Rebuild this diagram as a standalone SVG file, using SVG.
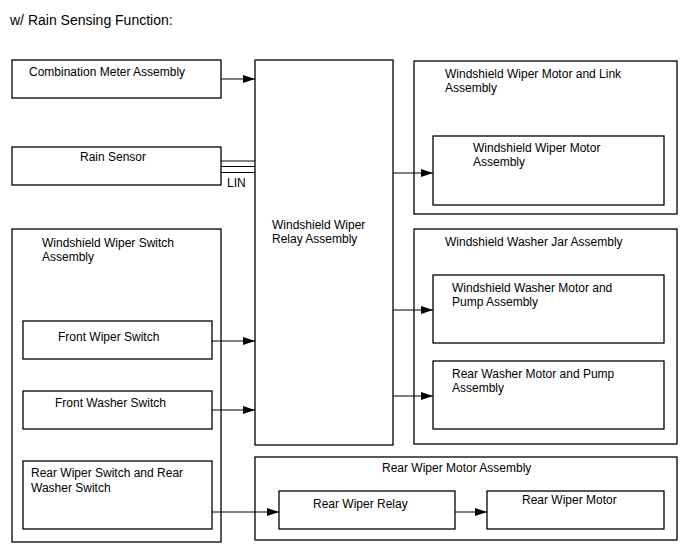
<svg xmlns="http://www.w3.org/2000/svg" width="688" height="560" viewBox="0 0 688 560">
<defs>
<marker id="ah" markerWidth="12" markerHeight="8" refX="12" refY="4" orient="auto" markerUnits="userSpaceOnUse">
<path d="M0,0 L12,4 L0,8 Z" fill="#000"/>
</marker>
<style>
.b{fill:#fff;stroke:#000;stroke-width:1.3}
text{font-family:"Liberation Sans",Arial,sans-serif;font-size:12px;fill:#000}
.t{font-size:14px}
.c{stroke:#000;stroke-width:1;fill:none}
</style>
</defs>
<rect x="0" y="0" width="688" height="560" fill="#fff"/>
<text class="t" x="10" y="25">w/ Rain Sensing Function:</text>
<g id="combination-meter"><rect class="b" x="12" y="60" width="209" height="38"/><text x="29" y="76">Combination Meter Assembly</text></g>
<g id="rain-sensor"><rect class="b" x="12" y="147" width="209" height="38"/><text x="80" y="161">Rain Sensor</text></g>
<g id="relay"><rect class="b" x="255" y="60" width="138" height="385"/><text x="272" y="229">Windshield Wiper</text><text x="272" y="243">Relay Assembly</text></g>
<g id="motor-link"><rect class="b" x="414" y="61" width="263" height="153"/><text x="445" y="78">Windshield Wiper Motor and Link</text><text x="445" y="92">Assembly</text></g>
<g id="wiper-motor"><rect class="b" x="433" y="136" width="231" height="69"/><text x="473" y="152">Windshield Wiper Motor</text><text x="473" y="166">Assembly</text></g>
<g id="washer-jar"><rect class="b" x="414" y="229" width="263" height="215"/><text x="445" y="246">Windshield Washer Jar Assembly</text></g>
<g id="washer-motor"><rect class="b" x="433" y="275" width="231" height="68"/><text x="452" y="292">Windshield Washer Motor and</text><text x="452" y="306">Pump Assembly</text></g>
<g id="rear-washer-motor"><rect class="b" x="433" y="361" width="231" height="68"/><text x="452" y="378">Rear Washer Motor and Pump</text><text x="452" y="392">Assembly</text></g>
<g id="switch-assembly"><rect class="b" x="12" y="229" width="209" height="313"/><text x="42" y="247">Windshield Wiper Switch</text><text x="42" y="261">Assembly</text></g>
<g id="front-wiper-switch"><rect class="b" x="23" y="321" width="189" height="38"/><text x="58" y="341">Front Wiper Switch</text></g>
<g id="front-washer-switch"><rect class="b" x="23" y="391" width="189" height="38"/><text x="55" y="407">Front Washer Switch</text></g>
<g id="rear-switch"><rect class="b" x="23" y="461" width="189" height="68"/><text x="31" y="477">Rear Wiper Switch and Rear</text><text x="31" y="492">Washer Switch</text></g>
<g id="rear-motor-assembly"><rect class="b" x="255" y="457" width="422" height="83"/><text x="382" y="472">Rear Wiper Motor Assembly</text></g>
<g id="rear-relay"><rect class="b" x="279" y="491" width="176" height="38"/><text x="313" y="508">Rear Wiper Relay</text></g>
<g id="rear-motor"><rect class="b" x="487" y="491" width="177" height="38"/><text x="522" y="504">Rear Wiper Motor</text></g>
<g id="connectors">
<line class="c" x1="221" y1="79" x2="255" y2="79" marker-end="url(#ah)"/>
<line class="c" x1="221" y1="161" x2="255" y2="161"/>
<line class="c" x1="221" y1="166.5" x2="255" y2="166.5" stroke-width="3"/>
<line class="c" x1="221" y1="172.5" x2="255" y2="172.5"/>
<text x="227" y="187">LIN</text>
<line class="c" x1="393" y1="173" x2="433" y2="173" marker-end="url(#ah)"/>
<line class="c" x1="393" y1="310" x2="433" y2="310" marker-end="url(#ah)"/>
<line class="c" x1="393" y1="396" x2="433" y2="396" marker-end="url(#ah)"/>
<line class="c" x1="212" y1="341" x2="255" y2="341" marker-end="url(#ah)"/>
<line class="c" x1="212" y1="410" x2="255" y2="410" marker-end="url(#ah)"/>
<line class="c" x1="212" y1="512" x2="279" y2="512" marker-end="url(#ah)"/>
<line class="c" x1="455" y1="512" x2="487" y2="512" marker-end="url(#ah)"/>
</g>
</svg>
